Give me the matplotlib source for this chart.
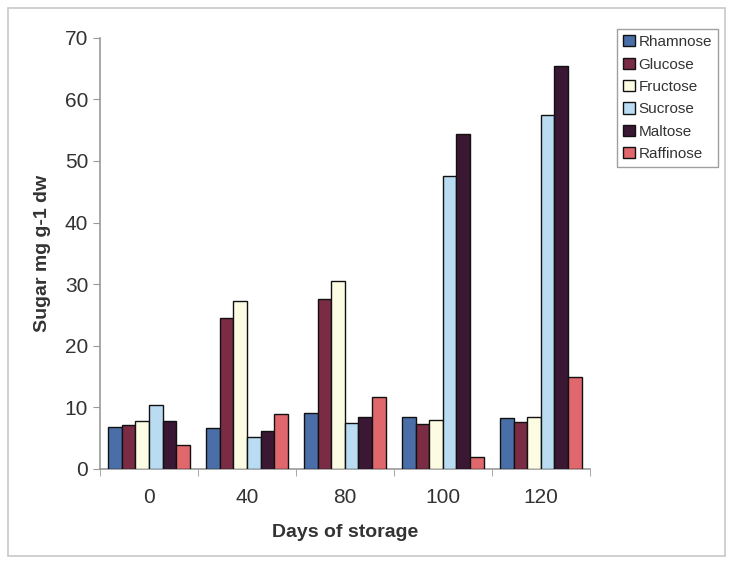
import numpy as np
import matplotlib.pyplot as plt
from matplotlib.patches import Rectangle

plt.rcParams["font.family"] = ["Liberation Sans", "DejaVu Sans"]

days = ["0", "40", "80", "100", "120"]
sugars = ["Rhamnose", "Glucose", "Fructose", "Sucrose", "Maltose", "Raffinose"]

rhamnose = [6.8, 6.7, 9.1, 8.4, 8.3]
glucose = [7.1, 24.5, 27.6, 7.3, 7.7]
fructose = [7.8, 27.3, 30.5, 8.0, 8.5]
sucrose = [10.4, 5.2, 7.4, 47.6, 57.5]
maltose = [7.8, 6.1, 8.4, 54.3, 65.4]
raffinose = [3.9, 9.0, 11.7, 2.0, 14.9]

colors = ["#4a6ea8", "#7b2c45", "#fcfbe4", "#b9dcf2", "#3a1733", "#e0676c"]

series = [rhamnose, glucose, fructose, sucrose, maltose, raffinose]

fig = plt.figure(figsize=(7.3, 5.63), dpi=100)
fig.patch.set_facecolor("white")
# thin frame round the whole chart
fig.add_artist(Rectangle((0.011, 0.012), 0.982, 0.974, transform=fig.transFigure,
                         fill=False, edgecolor="#c8c8c8", lw=1.2))

ax = fig.add_axes([0.137, 0.167, 0.671, 0.766])
x = np.arange(len(days))
w = 0.83 / len(sugars)
for i, (name, vals, c) in enumerate(zip(sugars, series, colors)):
    ax.bar(x - 0.415 + w * (i + 0.5), vals, width=w, color=c, edgecolor="#111111",
           lw=1.0, label=name, zorder=3)

ax.set_xlim(-0.5, len(days) - 0.5)
ax.set_ylim(0, 70)
ax.set_yticks(range(0, 71, 10))
ax.set_xticks(x)
ax.set_xticklabels(days)
ax.set_xticks(np.arange(-0.5, len(days), 1.0), minor=True)
ax.tick_params(axis="x", which="major", length=0, pad=14, labelsize=15,
               labelcolor="#333333")
ax.tick_params(axis="x", which="minor", length=5, color="#999999", direction="out")
ax.tick_params(axis="y", length=5, color="#999999", labelsize=15, labelcolor="#333333")
for s in ["top", "right"]:
    ax.spines[s].set_visible(False)
for s in ["left", "bottom"]:
    ax.spines[s].set_color("#999999")
    ax.spines[s].set_linewidth(1.2)

ax.set_xlabel("Days of storage", fontsize=14, fontweight="bold", color="#333333",
              labelpad=12)
ax.set_ylabel("Sugar mg g-1 dw", fontsize=14, fontweight="bold", color="#333333",
              labelpad=10)

leg = fig.legend(loc="upper left", bbox_to_anchor=(0.835, 0.962), fontsize=11,
                 frameon=True, fancybox=False, edgecolor="#888888",
                 handlelength=0.75, handleheight=0.75, handletextpad=0.25,
                 labelspacing=0.55, borderpad=0.4)
leg.get_frame().set_linewidth(1.0)
for t in leg.get_texts():
    t.set_color("#333333")

fig.savefig("out.png", dpi=100, facecolor="white")
